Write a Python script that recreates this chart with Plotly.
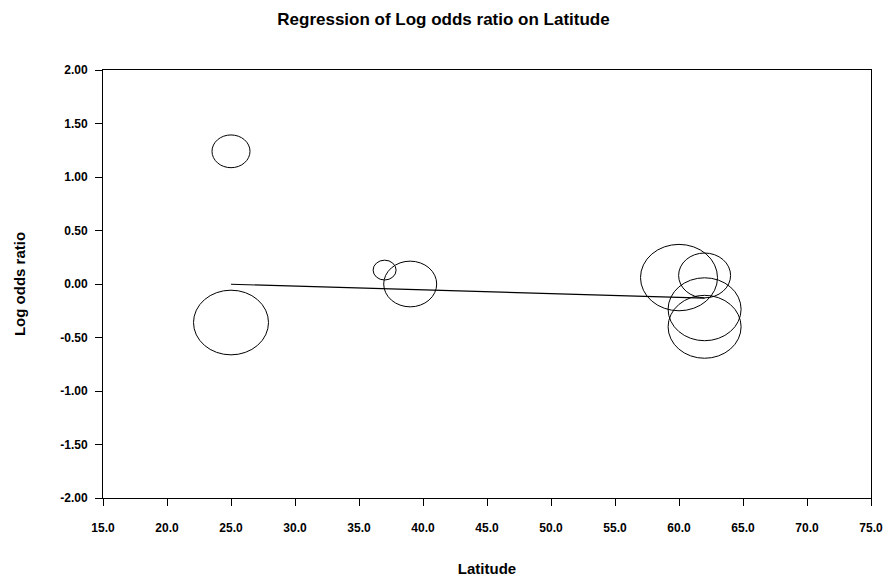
import plotly.graph_objects as go

# ---- data ----
latitude = [25, 25, 37, 39, 60, 62, 62, 62]
log_odds_ratio = [1.24, -0.36, 0.13, 0.00, 0.06, 0.08, -0.236, -0.40]
study_weight = [38, 75, 23, 53, 77, 52, 73, 73]   # relative bubble weight
reg_intercept = 0.085
reg_slope = -0.0035

x_ticks = [15, 20, 25, 30, 35, 40, 45, 50, 55, 60, 65, 70, 75]
y_ticks = [-2.0, -1.5, -1.0, -0.5, 0.0, 0.5, 1.0, 1.5, 2.0]

# ---- style ----
FONT = "Arial, Liberation Sans, Helvetica, sans-serif"
ASPECT = 1.16  # bubbles appear as horizontally stretched ellipses

fig = go.Figure()

# regression line across the latitude range
x_line = [min(latitude), max(latitude)]
y_line = [reg_intercept + reg_slope * x for x in x_line]
fig.add_trace(go.Scatter(x=x_line, y=y_line, mode="lines",
                         line=dict(color="black", width=1.2),
                         hoverinfo="skip", showlegend=False))

# invisible points for hover
fig.add_trace(go.Scatter(x=latitude, y=log_odds_ratio, mode="markers",
                         marker=dict(size=1, color="rgba(0,0,0,0)"),
                         showlegend=False))

shapes = []
for lx, ly, w in zip(latitude, log_odds_ratio, study_weight):
    rx = w / 2.0
    ry = w / 2.0 / ASPECT
    shapes.append(dict(type="circle", xref="x", yref="y",
                       xsizemode="pixel", ysizemode="pixel",
                       xanchor=lx, yanchor=ly,
                       x0=-rx, x1=rx, y0=-ry, y1=ry,
                       line=dict(color="black", width=1),
                       fillcolor="rgba(0,0,0,0)", layer="above"))

fig.update_layout(
    width=887, height=581,
    margin=dict(l=103, r=16, t=70, b=83, autoexpand=False),
    paper_bgcolor="white", plot_bgcolor="white",
    font=dict(family=FONT, color="black"),
    title=dict(text="<b>Regression of Log odds ratio on Latitude</b>",
               x=0.5, xanchor="center", y=1 - 19 / 581, yanchor="middle",
               font=dict(size=17, family=FONT, color="black")),
    shapes=shapes,
    showlegend=False,
)

fig.update_xaxes(
    range=[15, 75], tickvals=x_ticks,
    ticktext=[f"<b>{v:.1f}</b>" for v in x_ticks],
    showgrid=False, zeroline=False, automargin=False,
    showline=True, linecolor="black", linewidth=1, mirror=True,
    ticks="outside", ticklen=7, tickcolor="black", tickwidth=1,
    ticklabelstandoff=12,
    tickfont=dict(size=12, family=FONT, color="black"),
    title=dict(text="<b>Latitude</b>", font=dict(size=15, family=FONT, color="black"),
               standoff=29),
)
fig.update_yaxes(
    range=[-2, 2], tickvals=y_ticks,
    ticktext=[f"<b>{v:.2f}</b>" for v in y_ticks],
    showgrid=False, zeroline=False, automargin=False,
    showline=True, linecolor="black", linewidth=1, mirror=True,
    ticks="outside", ticklen=7, tickcolor="black", tickwidth=1,
    ticklabelstandoff=5,
    tickfont=dict(size=12, family=FONT, color="black"),
    title=dict(text="<b>Log odds ratio</b>", font=dict(size=15, family=FONT, color="black"),
               standoff=30),
)

fig.write_html("out.html")
